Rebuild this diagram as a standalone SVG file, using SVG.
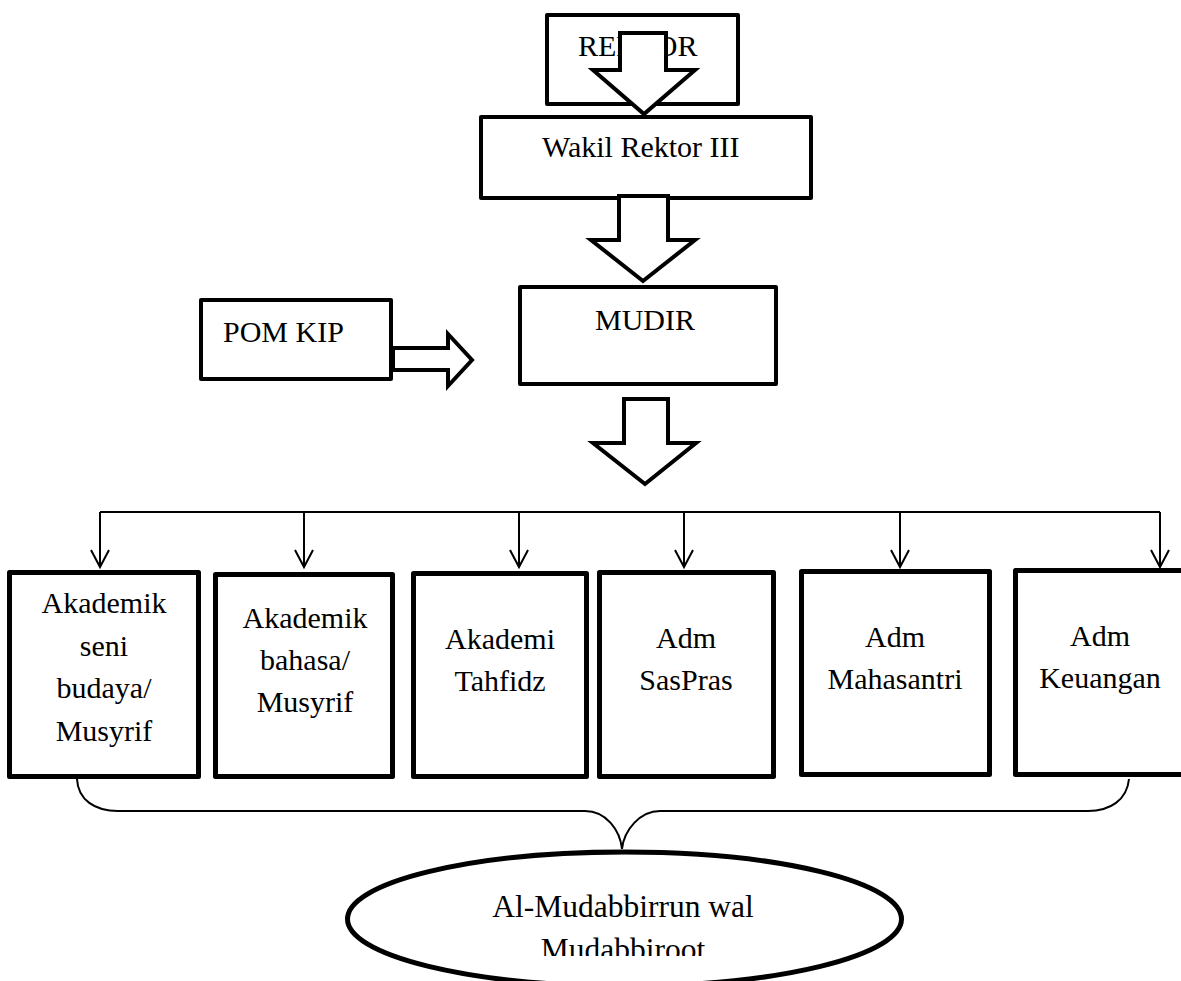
<svg xmlns="http://www.w3.org/2000/svg" width="1181" height="981" viewBox="0 0 1181 981">
<style>
  .box { fill: #fff; stroke: #000; stroke-width: 4; stroke-linejoin: round; }
  .box5 { fill: #fff; stroke: #000; stroke-width: 5; stroke-linejoin: round; }
  .barrow { fill: #fff; stroke: #000; stroke-width: 4; stroke-linejoin: miter; }
  .conn { fill: none; stroke: #000; stroke-width: 2; }
  .t { font-family: "Liberation Serif", "Times New Roman", serif; font-size: 30px; fill: #000; }
  .c { text-anchor: middle; }
  .e { font-size: 31.5px; }
</style>
<defs>
  <marker id="vhead" markerUnits="userSpaceOnUse" markerWidth="24" markerHeight="24" viewBox="-20 -12 24 24" refX="0" refY="0" orient="auto" overflow="visible">
    <path d="M-17,-9 L0,0 L-17,9" fill="none" stroke="#000" stroke-width="2"/>
  </marker>
  <clipPath id="ellclip">
    <rect x="0" y="0" width="1181" height="956"/>
  </clipPath>
</defs>

<g id="rektor">
  <rect class="box" x="547" y="15" width="191" height="89"/>
  <text class="t" x="578" y="56">REKTOR</text>
</g>

<g id="wakil">
  <rect class="box" x="481" y="117" width="330" height="81"/>
  <text class="t" x="542" y="157">Wakil Rektor III</text>
</g>

<g id="mudir">
  <rect class="box" x="520" y="287" width="256" height="97"/>
  <text class="t" x="595" y="330">MUDIR</text>
</g>

<g id="pomkip">
  <rect class="box" x="201" y="300" width="190" height="79"/>
  <text class="t" x="223" y="342">POM KIP</text>
</g>

<g id="connectors">
  <polygon class="barrow" points="620,33 666,33 666,70 695,70 644,114 593,70 620,70"/>
  <polygon class="barrow" points="619,196 668,196 668,240 695,240 643,281 591,240 619,240"/>
  <polygon class="barrow" points="624,399 668,399 668,443 696,443 645,484 593,443 624,443"/>
  <polygon class="barrow" points="393,348 448,348 448,334 472,360 448,386 448,370 393,370"/>
  <path class="conn" d="M100,512 L1160,512"/>
  <path class="conn" d="M100,512 L100,567" marker-end="url(#vhead)"/>
  <path class="conn" d="M304,512 L304,567" marker-end="url(#vhead)"/>
  <path class="conn" d="M519,512 L519,567" marker-end="url(#vhead)"/>
  <path class="conn" d="M684,512 L684,567" marker-end="url(#vhead)"/>
  <path class="conn" d="M900,512 L900,567" marker-end="url(#vhead)"/>
  <path class="conn" d="M1160,512 L1160,567" marker-end="url(#vhead)"/>
  <path class="conn" d="M77,779 C78,800 95,811 118,811 L585,811 C606,811 620,830 622,849 C624,830 640,811 660,811 L1088,811 C1110,811 1127,800 1129,779"/>
</g>

<g id="akademik-seni">
  <rect class="box5" x="9.5" y="572.5" width="189" height="204"/>
  <text class="t c" x="104" y="613">Akademik</text>
  <text class="t c" x="104" y="656">seni</text>
  <text class="t c" x="104" y="698">budaya/</text>
  <text class="t c" x="104" y="741">Musyrif</text>
</g>

<g id="akademik-bahasa">
  <rect class="box5" x="215.5" y="574.5" width="177" height="202"/>
  <text class="t c" x="305" y="628">Akademik</text>
  <text class="t c" x="305" y="670">bahasa/</text>
  <text class="t c" x="305" y="712">Musyrif</text>
</g>

<g id="akademi-tahfidz">
  <rect class="box5" x="413.5" y="573.5" width="173" height="203"/>
  <text class="t c" x="500" y="649">Akademi</text>
  <text class="t c" x="500" y="691">Tahfidz</text>
</g>

<g id="adm-saspras">
  <rect class="box5" x="599.5" y="572.5" width="174" height="204"/>
  <text class="t c" x="686" y="648">Adm</text>
  <text class="t c" x="686" y="690">SasPras</text>
</g>

<g id="adm-mahasantri">
  <rect class="box5" x="801.5" y="571.5" width="188" height="203"/>
  <text class="t c" x="895" y="647">Adm</text>
  <text class="t c" x="895" y="689">Mahasantri</text>
</g>

<g id="adm-keuangan">
  <rect class="box5" x="1015.5" y="570.5" width="180" height="204"/>
  <text class="t c" x="1100" y="646">Adm</text>
  <text class="t c" x="1100" y="688">Keuangan</text>
</g>

<g id="mudabbirrun">
  <ellipse cx="624.5" cy="919" rx="277" ry="67" fill="#fff" stroke="#000" stroke-width="5"/>
  <g clip-path="url(#ellclip)">
    <text class="t c e" x="623" y="917">Al-Mudabbirrun wal</text>
    <text class="t c e" x="623" y="960">Mudabbiroot</text>
  </g>
</g>
</svg>
